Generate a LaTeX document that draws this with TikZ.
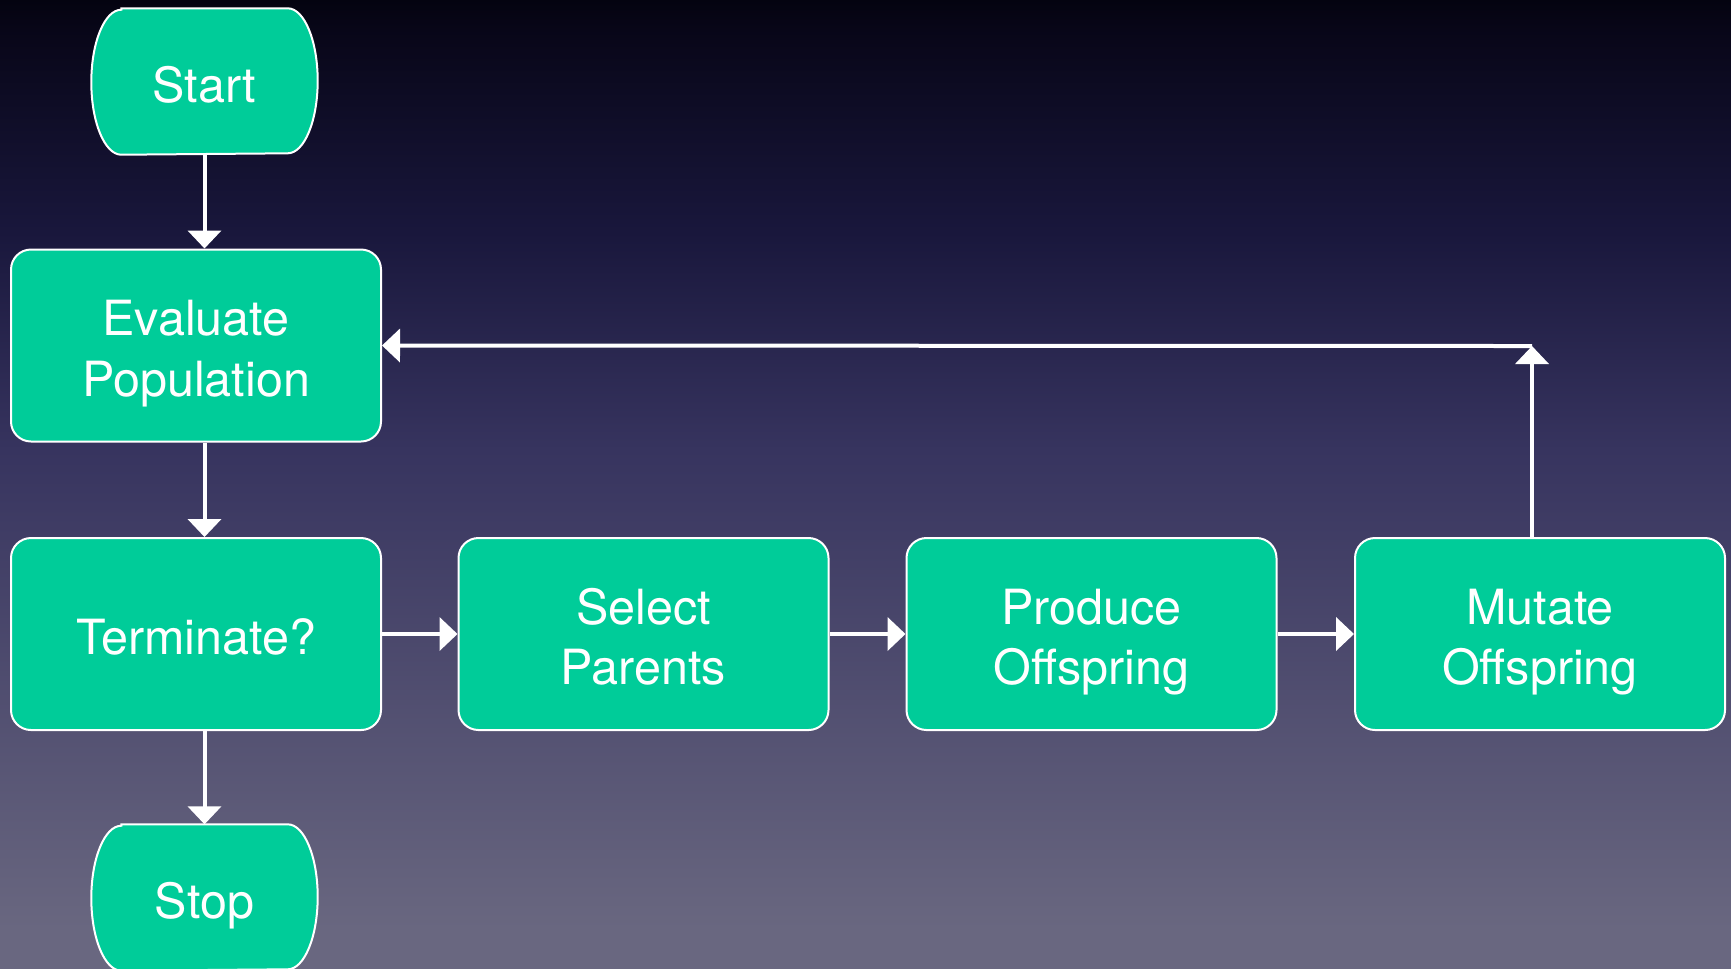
\documentclass[tikz,border=0pt]{standalone}
\usepackage{fontspec}
\setmainfont{TeX Gyre Heros}
\usetikzlibrary{arrows.meta,calc}

\definecolor{boxgreen}{RGB}{0,204,153}
\definecolor{bgtop}{RGB}{4,3,16}
\definecolor{bgup}{RGB}{8,6,24}
\definecolor{bghigh}{RGB}{25,23,60}
\definecolor{bgmid}{RGB}{55,52,95}
\definecolor{bgbot}{RGB}{105,103,128}

% vertical backdrop: the path box covers 25bp..75bp of the shading
\pgfdeclareverticalshading{slideshade}{100bp}{%
  color(0bp)=(bgbot); color(27bp)=(bgbot); color(51.75bp)=(bgmid);
  color(63bp)=(bghigh); color(73.5bp)=(bgup); color(75bp)=(bgtop);
  color(100bp)=(bgtop)}

\pgfdeclarelayer{bglayer}
\pgfdeclarelayer{shapelayer}
\pgfsetlayers{bglayer,shapelayer,main}

\tikzset{
  label font/.style={font=\fontsize{13.8pt}{17.1pt}\selectfont, text=white,
    align=center, text depth=0pt},
  oneline/.style={text height=4.1mm},
  twoline/.style={text height=10.1mm},
  stepbox/.style={label font, rectangle, rounded corners=2mm, fill=boxgreen,
    draw=white, line width=0.2mm, minimum width=37mm, minimum height=19.2mm,
    inner sep=0pt},
  termnode/.style={label font, oneline, rectangle, minimum width=22.5mm,
    minimum height=14.5mm, inner sep=0pt},
  termline/.style={fill=boxgreen, draw=white, line width=0.2mm},
  arr/.style={draw=white, line width=0.4mm,
    -{Triangle[width=3.3mm,length=1.8mm]}},
}

% terminal shape: flat top and bottom, elliptic sides
\newcommand\termoutline[1]{%
  \draw[termline] ($(#1.north west)+(3mm,0)$) -- ($(#1.north east)+(-3mm,0)$)
    arc[start angle=90, end angle=-90, x radius=3mm, y radius=7.25mm]
    -- ($(#1.south west)+(3mm,0)$)
    arc[start angle=270, end angle=90, x radius=3mm, y radius=7.25mm] -- cycle;}

\begin{document}
\begin{tikzpicture}[x=0.1mm, y=-0.1mm]
  \useasboundingbox (0,0) rectangle (1731,968);
  \begin{pgfonlayer}{bglayer}
    \shade[shading=slideshade] (0,0) rectangle (1731,968);
  \end{pgfonlayer}

  % nodes
  \node[termnode] (start) at (204.5,81.5) {Start};
  \node[stepbox, twoline] (eval) at (196,345.5) {Evaluate\\Population};
  \node[stepbox, oneline] (term) at (196,634) {Terminate?};
  \node[stepbox, twoline] (sel) at (643.5,634) {Select\\Parents};
  \node[stepbox, twoline] (prod) at (1091.5,634) {Produce\\Offspring};
  \node[stepbox, twoline] (mut) at (1540,634) {Mutate\\Offspring};
  \node[termnode] (stop) at (204.5,897.5) {Stop};

  \begin{pgfonlayer}{shapelayer}
    \termoutline{start}
    \termoutline{stop}
  \end{pgfonlayer}

  % connectors
  \draw[arr] (start.south) -- (start.south |- eval.north);
  \draw[arr] (eval.south -| start) -- (term.north -| start);
  \draw[arr] (term.south -| stop) -- (stop.north);
  \draw[arr] (term.east) -- (sel.west);
  \draw[arr] (sel.east) -- (prod.west);
  \draw[arr] (prod.east) -- (mut.west);
  \coordinate (corner) at (1532,346);
  \draw[arr] (mut.north -| corner) -- (corner);
  \draw[arr] (corner) -- (eval.east);
\end{tikzpicture}
\end{document}
